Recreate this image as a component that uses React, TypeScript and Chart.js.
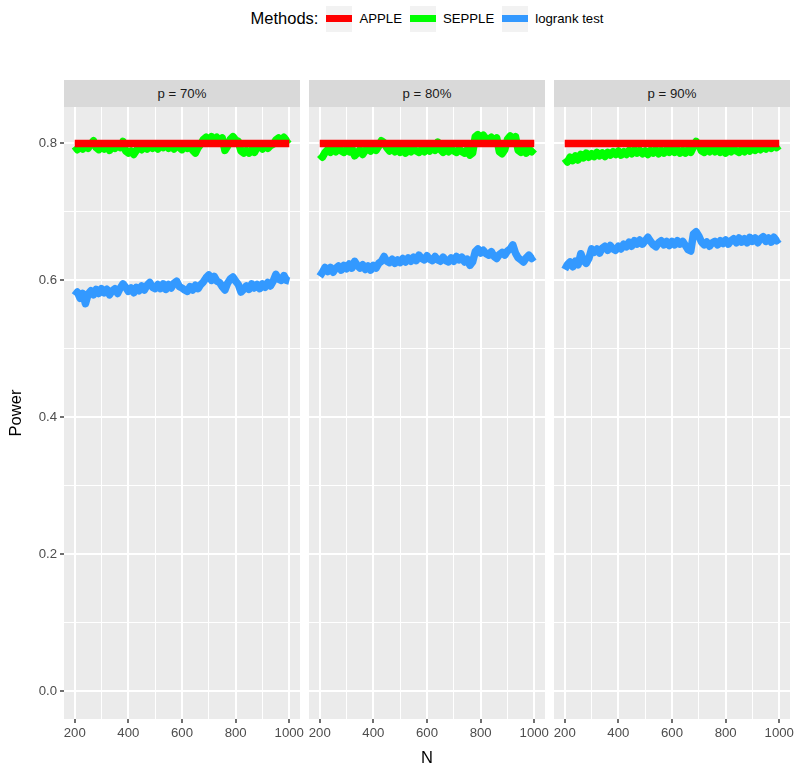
import { useEffect, useRef } from 'react';
import { Chart, registerables } from 'chart.js';

Chart.register(...registerables);

// ---------------- data ----------------
const N_VALUES = [
  200, 210, 220, 230, 240, 250, 260, 270, 280, 290,
  300, 310, 320, 330, 340, 350, 360, 370, 380, 390,
  400, 410, 420, 430, 440, 450, 460, 470, 480, 490,
  500, 510, 520, 530, 540, 550, 560, 570, 580, 590,
  600, 610, 620, 630, 640, 650, 660, 670, 680, 690,
  700, 710, 720, 730, 740, 750, 760, 770, 780, 790,
  800, 810, 820, 830, 840, 850, 860, 870, 880, 890,
  900, 910, 920, 930, 940, 950, 960, 970, 980, 990,
  1000,
];

const APPLE_N = [200, 300, 400, 500, 600, 700, 800, 900, 1000];

const PANEL_LABELS = ['p = 70%', 'p = 80%', 'p = 90%'];
const METHOD_LABELS = ['APPLE', 'SEPPLE', 'logrank test'];
const METHOD_COLORS = ['#FF0000', '#00FF00', '#3399FF'];

const X_TICKS = [200, 300, 400, 500, 600, 700, 800, 900, 1000];
const X_LABELED = [200, 400, 600, 800, 1000];
const Y_TICKS = [0, 0.1, 0.2, 0.3, 0.4, 0.5, 0.6, 0.7, 0.8];
const Y_LABELED = [0, 0.2, 0.4, 0.6, 0.8];

// p = 70%
const APPLE_70 = [0.8, 0.8, 0.8, 0.8, 0.8, 0.8, 0.8, 0.8, 0.8];
const SEPPLE_70 = [
  0.796, 0.791, 0.797, 0.792, 0.798, 0.793, 0.799, 0.804, 0.794, 0.791,
  0.797, 0.792, 0.796, 0.790, 0.797, 0.793, 0.798, 0.794, 0.803, 0.789,
  0.786, 0.789, 0.784, 0.790, 0.795, 0.791, 0.797, 0.792, 0.798, 0.793,
  0.797, 0.792, 0.798, 0.794, 0.799, 0.793, 0.797, 0.792, 0.798, 0.794,
  0.791, 0.797, 0.793, 0.798, 0.790, 0.786, 0.794, 0.799, 0.806, 0.809,
  0.804, 0.810, 0.805, 0.809, 0.804, 0.808, 0.790, 0.796, 0.806, 0.810,
  0.805, 0.803, 0.789, 0.786, 0.790, 0.786, 0.791, 0.787, 0.794, 0.797,
  0.792, 0.798, 0.793, 0.797, 0.799, 0.805, 0.808, 0.804, 0.809, 0.804,
  0.807,
];
const LOGRANK_70 = [
  0.578, 0.583, 0.574, 0.581, 0.566, 0.580, 0.585, 0.579, 0.587, 0.581,
  0.588, 0.582, 0.587, 0.579, 0.585, 0.588, 0.581, 0.589, 0.595, 0.590,
  0.584, 0.589, 0.582, 0.590, 0.585, 0.592, 0.586, 0.593, 0.597, 0.590,
  0.588, 0.594, 0.588, 0.595, 0.587, 0.594, 0.589, 0.596, 0.599, 0.591,
  0.589, 0.586, 0.584, 0.591, 0.586, 0.593, 0.588, 0.594, 0.598, 0.604,
  0.608, 0.600, 0.606, 0.599, 0.597, 0.591, 0.586, 0.596, 0.602, 0.605,
  0.599, 0.594, 0.583, 0.587, 0.592, 0.587, 0.595, 0.589, 0.594, 0.588,
  0.595, 0.590, 0.597, 0.592, 0.599, 0.609, 0.602, 0.600, 0.607, 0.600,
  0.599,
];

// p = 80%
const APPLE_80 = [0.8, 0.8, 0.8, 0.8, 0.8, 0.8, 0.8, 0.8, 0.8];
const SEPPLE_80 = [
  0.784, 0.780, 0.787, 0.791, 0.787, 0.793, 0.788, 0.794, 0.789, 0.787,
  0.792, 0.788, 0.793, 0.782, 0.786, 0.791, 0.784, 0.790, 0.793, 0.789,
  0.794, 0.790, 0.796, 0.804, 0.801, 0.794, 0.789, 0.793, 0.788, 0.792,
  0.787, 0.791, 0.786, 0.792, 0.788, 0.793, 0.789, 0.787, 0.792, 0.788,
  0.793, 0.789, 0.794, 0.790, 0.802, 0.791, 0.787, 0.792, 0.788, 0.793,
  0.789, 0.787, 0.792, 0.788, 0.786, 0.791, 0.783, 0.786, 0.810, 0.813,
  0.808, 0.812, 0.807, 0.806, 0.809, 0.804, 0.808, 0.788, 0.785, 0.791,
  0.806, 0.811, 0.807, 0.810, 0.790, 0.787, 0.791, 0.786, 0.792, 0.788,
  0.792,
];
const LOGRANK_80 = [
  0.606, 0.612, 0.619, 0.613, 0.619, 0.612, 0.618, 0.621, 0.615, 0.622,
  0.617, 0.624, 0.618, 0.628, 0.622, 0.618, 0.623, 0.616, 0.621, 0.615,
  0.622, 0.618, 0.625, 0.628, 0.635, 0.628, 0.626, 0.631, 0.625, 0.630,
  0.626, 0.632, 0.627, 0.633, 0.628, 0.634, 0.629, 0.637, 0.632, 0.630,
  0.636, 0.631, 0.629, 0.635, 0.630, 0.628, 0.634, 0.629, 0.627, 0.633,
  0.628, 0.635, 0.630, 0.634, 0.627, 0.631, 0.622, 0.627, 0.642, 0.646,
  0.640, 0.644, 0.639, 0.637, 0.642, 0.635, 0.632, 0.638, 0.641, 0.637,
  0.643, 0.646, 0.652, 0.640, 0.633, 0.630, 0.627, 0.633, 0.637, 0.632,
  0.635,
];

// p = 90%
const APPLE_90 = [0.8, 0.8, 0.8, 0.8, 0.8, 0.8, 0.8, 0.8, 0.8];
const SEPPLE_90 = [
  0.778, 0.773, 0.780, 0.775, 0.782, 0.776, 0.784, 0.779, 0.786, 0.780,
  0.785, 0.781, 0.787, 0.782, 0.786, 0.781, 0.787, 0.783, 0.788, 0.784,
  0.789, 0.783, 0.788, 0.784, 0.790, 0.785, 0.791, 0.786, 0.790, 0.785,
  0.789, 0.784, 0.790, 0.786, 0.791, 0.785, 0.790, 0.786, 0.791, 0.787,
  0.792, 0.787, 0.791, 0.786, 0.790, 0.786, 0.791, 0.787, 0.795, 0.803,
  0.798, 0.789, 0.787, 0.792, 0.788, 0.793, 0.788, 0.792, 0.787, 0.791,
  0.786, 0.792, 0.788, 0.793, 0.789, 0.787, 0.792, 0.788, 0.793, 0.789,
  0.794, 0.790, 0.795, 0.791, 0.796, 0.792, 0.797, 0.793, 0.798, 0.794,
  0.797,
];
const LOGRANK_90 = [
  0.616, 0.623, 0.627, 0.620, 0.628, 0.623, 0.639, 0.629, 0.625, 0.632,
  0.646, 0.641, 0.646, 0.640, 0.647, 0.650, 0.644, 0.651, 0.646, 0.644,
  0.650, 0.646, 0.653, 0.649, 0.656, 0.650, 0.658, 0.653, 0.659, 0.653,
  0.658, 0.663, 0.657, 0.652, 0.649, 0.655, 0.658, 0.652, 0.657, 0.651,
  0.657, 0.652, 0.658, 0.653, 0.657, 0.651, 0.645, 0.643, 0.668, 0.671,
  0.665, 0.656, 0.652, 0.656, 0.650, 0.655, 0.657, 0.652, 0.658, 0.654,
  0.659, 0.653, 0.658, 0.661, 0.655, 0.662, 0.656, 0.661, 0.655, 0.663,
  0.657, 0.662, 0.655, 0.661, 0.664, 0.657, 0.662, 0.656, 0.663, 0.658,
  0.661,
];

const APPLE_SERIES = [APPLE_70, APPLE_80, APPLE_90];
const SEPPLE_SERIES = [SEPPLE_70, SEPPLE_80, SEPPLE_90];
const LOGRANK_SERIES = [LOGRANK_70, LOGRANK_80, LOGRANK_90];

// ---------------- layout ----------------
const FONT = '"Liberation Sans", Arial, Helvetica, sans-serif';
const PANEL_LEFTS = [64, 309, 554];
const PANEL_W = 236;
const PANEL_TOP = 107;
const PANEL_H = 612;
const TOP_PAD = 16;
const X_AXIS_H = 40;
const Y_AXIS_W = 64;
const SIDE_PAD = 18;
const LINE_W = 7.5;
const SMALL = 13.2;
const TITLE = 16.5;

const panelBg = {
  id: 'panelBg',
  beforeDraw(chart: any) {
    const { ctx, chartArea } = chart;
    ctx.save();
    ctx.fillStyle = '#EBEBEB';
    ctx.fillRect(chartArea.left, chartArea.top, chartArea.width, chartArea.height);
    ctx.restore();
  },
};

const near = (v: number, list: number[]) => list.some((t) => Math.abs(t - v) < 1e-6);

function Panel({ index }: { index: number }) {
  const ref = useRef<HTMLCanvasElement | null>(null);
  const first = index === 0;
  const padL = first ? 0 : SIDE_PAD;
  const yW = first ? Y_AXIS_W : 0;
  const width = PANEL_W + padL + yW + SIDE_PAD;
  const height = TOP_PAD + PANEL_H + X_AXIS_H;
  const left = PANEL_LEFTS[index] - padL - yW;

  useEffect(() => {
    if (!ref.current) return;
    const toPts = (xs: number[], ys: number[]) => xs.map((x, i) => ({ x, y: ys[i] }));
    const common = { pointRadius: 0, borderWidth: LINE_W, tension: 0, borderCapStyle: 'butt', borderJoinStyle: 'round', fill: false };
    const chart = new Chart(ref.current, {
      type: 'line',
      data: {
        datasets: [
          { label: METHOD_LABELS[0], data: toPts(APPLE_N, APPLE_SERIES[index]), borderColor: METHOD_COLORS[0], ...common },
          { label: METHOD_LABELS[1], data: toPts(N_VALUES, SEPPLE_SERIES[index]), borderColor: METHOD_COLORS[1], ...common },
          { label: METHOD_LABELS[2], data: toPts(N_VALUES, LOGRANK_SERIES[index]), borderColor: METHOD_COLORS[2], ...common },
        ] as any,
      },
      options: {
        animation: false,
        responsive: false,
        maintainAspectRatio: false,
        events: [],
        layout: { padding: { left: padL, right: SIDE_PAD, top: TOP_PAD, bottom: 0 } },
        plugins: { legend: { display: false }, tooltip: { enabled: false }, title: { display: false } },
        scales: {
          x: {
            type: 'linear',
            min: 160,
            max: 1040,
            afterBuildTicks: (s: any) => { s.ticks = X_TICKS.map((v) => ({ value: v })); },
            afterFit: (s: any) => { s.height = X_AXIS_H; },
            border: { display: false },
            grid: {
              color: '#FFFFFF',
              lineWidth: (c: any) => (near(c.tick?.value, X_LABELED) ? 2 : 1),
              drawTicks: true,
              tickLength: 4,
              tickWidth: 1.4,
              tickColor: (c: any) => (near(c.tick?.value, X_LABELED) ? '#333333' : 'rgba(0,0,0,0)'),
            },
            ticks: {
              autoSkip: false,
              maxRotation: 0,
              minRotation: 0,
              padding: 2,
              color: '#4D4D4D',
              font: { family: FONT, size: SMALL },
              callback: (v: any) => (near(Number(v), X_LABELED) ? String(v) : ''),
            },
          },
          y: {
            type: 'linear',
            min: -0.0405,
            max: 0.8533,
            afterBuildTicks: (s: any) => { s.ticks = Y_TICKS.map((v) => ({ value: v })); },
            afterFit: (s: any) => { s.width = yW; },
            border: { display: false },
            grid: {
              color: '#FFFFFF',
              lineWidth: (c: any) => (near(c.tick?.value, Y_LABELED) ? 2 : 1),
              drawTicks: first,
              tickLength: 4,
              tickWidth: 1.4,
              tickColor: (c: any) => (near(c.tick?.value, Y_LABELED) ? '#333333' : 'rgba(0,0,0,0)'),
            },
            ticks: {
              display: first,
              autoSkip: false,
              padding: 3,
              color: '#4D4D4D',
              font: { family: FONT, size: SMALL },
              callback: (v: any) => (near(Number(v), Y_LABELED) ? Number(v).toFixed(1) : ''),
            },
          },
        },
      } as any,
      plugins: [panelBg],
    });
    return () => chart.destroy();
  }, [index]);

  return (
    <canvas
      ref={ref}
      width={width}
      height={height}
      style={{ position: 'absolute', left, top: PANEL_TOP - TOP_PAD, width, height }}
    />
  );
}

export default function App() {
  return (
    <div style={{ position: 'absolute', left: 0, top: 0, width: 800, height: 770, background: '#FFFFFF', fontFamily: FONT, overflow: 'hidden' }}>
      {/* legend */}
      <div style={{ position: 'absolute', left: PANEL_LEFTS[0], width: PANEL_LEFTS[2] + PANEL_W - PANEL_LEFTS[0], top: 5, height: 27, display: 'flex', alignItems: 'center', justifyContent: 'center' }}>
        <span style={{ fontSize: TITLE, color: '#000000', marginRight: 8 }}>Methods:</span>
        {METHOD_LABELS.map((m, i) => (
          <div key={m} style={{ display: 'flex', alignItems: 'center', marginLeft: i === 0 ? 0 : 8 }}>
            <div style={{ width: 26, height: 26, background: '#F2F2F2', display: 'flex', alignItems: 'center' }}>
              <div style={{ width: 26, height: LINE_W, background: METHOD_COLORS[i] }} />
            </div>
            <span style={{ fontSize: SMALL, color: '#000000', marginLeft: 7 }}>{m}</span>
          </div>
        ))}
      </div>
      {/* strips */}
      {PANEL_LABELS.map((p, i) => (
        <div key={p} style={{ position: 'absolute', left: PANEL_LEFTS[i], top: 80, width: PANEL_W, height: PANEL_TOP - 80, background: '#D9D9D9', color: '#1A1A1A', fontSize: SMALL, display: 'flex', alignItems: 'center', justifyContent: 'center' }}>
          {p}
        </div>
      ))}
      {PANEL_LABELS.map((p, i) => (
        <Panel key={'c' + p} index={i} />
      ))}
      {/* axis titles */}
      <div style={{ position: 'absolute', left: PANEL_LEFTS[0], width: PANEL_LEFTS[2] + PANEL_W - PANEL_LEFTS[0], top: 747, height: 20, textAlign: 'center', fontSize: TITLE, color: '#000000', lineHeight: '20px' }}>N</div>
      <div style={{ position: 'absolute', left: 15, top: PANEL_TOP + PANEL_H / 2, width: 0, height: 0 }}>
        <div style={{ position: 'absolute', left: -50, top: -10, width: 100, height: 20, lineHeight: '20px', textAlign: 'center', fontSize: TITLE, color: '#000000', transform: 'rotate(-90deg)' }}>Power</div>
      </div>
    </div>
  );
}
